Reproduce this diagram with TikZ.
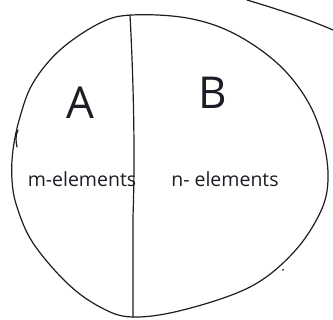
\documentclass[tikz,border=0pt]{standalone}
\usepackage{fontspec}
\setmainfont{Open Sans}
\definecolor{ink}{HTML}{1C1C24}
\begin{document}
\begin{tikzpicture}[x=1pt,y=-1pt,
  pen/.style={draw=ink,line width=1.2pt,line cap=round,line join=round},
  letter/.style={text=ink,font=\fontsize{44}{46}\selectfont,inner sep=0pt},
  caption/.style={text=ink,font=\fontsize{19.5}{22}\selectfont,inner sep=0pt}]
\useasboundingbox (0,0) rectangle (333,320);
% outer circle
\draw[pen] plot[smooth cycle,tension=0.6] coordinates {
 (132,15) (100,23) (60,50) (33,83) (20,117) (13,150) (12,180) (17,207)
 (33,243) (67,283) (100,307) (132,317) (183,310) (250,287) (293,253)
 (320,213) (328,180) (323,140) (307,100) (277,63) (233,33) (187,18)};
% dividing line
\coordinate (top) at (130,15);
\coordinate (bot) at (133,317);
\draw[pen] (top) .. controls (134,90) and (135,160) .. (133,217) -- (bot);
% stray strokes
\coordinate (s1) at (247,0);
\coordinate (s2) at (333,30);
\draw[pen] (s1) .. controls (280,10) and (305,18) .. (s2);
\coordinate (t1) at (18,130);
\coordinate (t2) at (17,147);
\draw[pen] (t1) .. controls (15,136) and (16,142) .. (t2);
\fill[ink] (283,270) circle (1pt);
% labels
\node[letter] (A) at (80,103) {A};
\node[letter] (B) at (213,93) {B};
\node[caption] (m) at (82,179) {m-elements};
\node[caption] (n) at (225,179) {n- elements};
\end{tikzpicture}
\end{document}
